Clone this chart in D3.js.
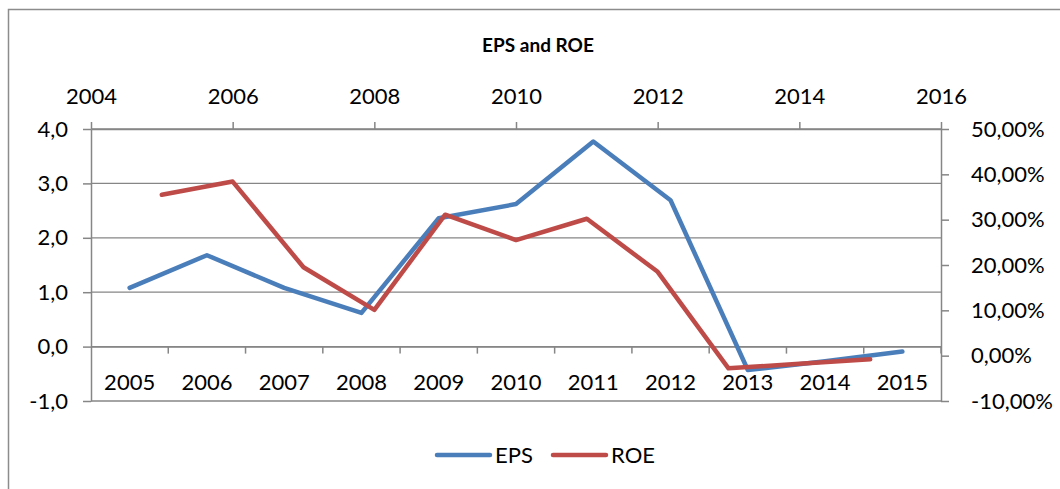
<!DOCTYPE html>
<html>
<head>
<meta charset="utf-8">
<script src="https://cdn.jsdelivr.net/npm/d3@7"></script>
<style>
  body { margin: 0; background: #fff; }
  svg { font-family: Lato, "Open Sans", sans-serif; }
</style>
</head>
<body>
<script>
// data
var years = ["2005","2006","2007","2008","2009","2010","2011","2012","2013","2014","2015"];
var roeYears = [2005, 2006, 2007, 2008, 2009, 2010, 2011, 2012, 2013, 2014, 2015];
var eps = [1.08, 1.68, 1.08, 0.62, 2.36, 2.62, 3.77, 2.69, -0.43, -0.27, -0.09];
var roe = [0.355, 0.384, 0.195, 0.101, 0.311, 0.255, 0.302, 0.185, -0.028, -0.018, -0.008];
var epsTicks = [-1, 0, 1, 2, 3, 4];
var roeTicks = [-0.1, 0, 0.1, 0.2, 0.3, 0.4, 0.5];
var topTicks = [2004, 2006, 2008, 2010, 2012, 2014, 2016];

var locale = d3.formatLocale({decimal: ",", thousands: ".", grouping: [3], currency: ["", ""], minus: "-"});
var fmtEps = locale.format(".1f"),
    fmtPct = locale.format(".2%");

var svg = d3.select("body").append("svg").attr("width", 1060).attr("height", 489);

var plotL = 91, plotR = 941, plotT = 129, plotB = 401;
var blue = "#4a7ebb", red = "#be4b48", axisCol = "#868686";

// outer chart frame
svg.append("rect")
  .attr("x", 8.5).attr("y", 9.5).attr("width", 1100).attr("height", 600)
  .attr("fill", "none").attr("stroke", "#8c8c8c").attr("stroke-width", 1.5);

svg.append("text")
  .attr("x", 538).attr("y", 52)
  .attr("text-anchor", "middle")
  .attr("font-size", 19).attr("font-weight", "bold")
  .text("EPS and ROE");

var x = d3.scaleBand().domain(years).range([plotL, plotR]),
    xTop = d3.scaleLinear().domain([2004, 2016]).range([plotL, plotR]),
    y = d3.scaleLinear().domain([-1, 4]).range([plotB, plotT]),
    y2 = d3.scaleLinear().domain([-0.1, 0.5]).range([plotB, plotT]);

// gridlines
svg.append("g")
  .selectAll("line")
  .data(epsTicks)
  .enter().append("line")
    .attr("x1", plotL).attr("x2", plotR)
    .attr("y1", function(d) { return y(d); })
    .attr("y2", function(d) { return y(d); })
    .attr("stroke", axisCol).attr("stroke-width", 1.3);

function styleAxis(g) {
  g.select(".domain").attr("stroke", axisCol).attr("stroke-width", 1.5);
  g.selectAll(".tick line").attr("stroke", axisCol).attr("stroke-width", 1.5);
  g.selectAll("text").attr("fill", "#000").attr("font-size", 22)
    .attr("font-family", "Lato, 'Open Sans', sans-serif");
}

// left axis
svg.append("g")
  .attr("transform", "translate(" + plotL + ",0)")
  .call(d3.axisLeft(y).tickValues(epsTicks).tickFormat(fmtEps).tickSize(8).tickPadding(15).tickSizeOuter(0))
  .call(styleAxis);

// right axis
svg.append("g")
  .attr("transform", "translate(" + plotR + ",0)")
  .call(d3.axisRight(y2).tickValues(roeTicks).tickFormat(fmtPct).tickSize(8).tickPadding(22).tickSizeOuter(0))
  .call(styleAxis);

// top axis (secondary horizontal, years as values)
svg.append("g")
  .attr("transform", "translate(0," + plotT + ")")
  .call(d3.axisTop(xTop).tickValues(topTicks).tickFormat(d3.format("d")).tickSize(7).tickPadding(18).tickSizeOuter(0))
  .call(styleAxis);

// bottom category axis crossing at zero
var gx = svg.append("g")
  .attr("transform", "translate(0," + y(0) + ")")
  .call(d3.axisBottom(x).tickSize(0).tickPadding(28))
  .call(styleAxis);
gx.selectAll(".tick")
  .append("line")
    .attr("x1", x.bandwidth() / 2).attr("x2", x.bandwidth() / 2)
    .attr("y1", 0).attr("y2", 7)
    .attr("stroke", axisCol).attr("stroke-width", 1.5);

// lines
var epsLine = d3.line()
  .x(function(d, i) { return x(years[i]) + x.bandwidth() / 2; })
  .y(function(d) { return y(d); });

var roeLine = d3.line()
  .x(function(d, i) { return xTop(roeYears[i]); })
  .y(function(d) { return y2(d); });

svg.append("path")
  .datum(eps)
  .attr("d", epsLine)
  .attr("fill", "none").attr("stroke", blue).attr("stroke-width", 4.5)
  .attr("stroke-linejoin", "round").attr("stroke-linecap", "round");

svg.append("path")
  .datum(roe)
  .attr("d", roeLine)
  .attr("fill", "none").attr("stroke", red).attr("stroke-width", 4.5)
  .attr("stroke-linejoin", "round").attr("stroke-linecap", "round");

// legend
var legend = [{name: "EPS", color: blue, x: 437}, {name: "ROE", color: red, x: 553}];
var lg = svg.append("g").selectAll("g").data(legend).enter().append("g")
  .attr("transform", function(d) { return "translate(" + d.x + ",455)"; });
lg.append("line")
  .attr("x1", 0).attr("x2", 53)
  .attr("stroke", function(d) { return d.color; })
  .attr("stroke-width", 4.5).attr("stroke-linecap", "round");
lg.append("text")
  .attr("x", 58).attr("y", 8)
  .attr("font-size", 22)
  .text(function(d) { return d.name; });
</script>
</body>
</html>
